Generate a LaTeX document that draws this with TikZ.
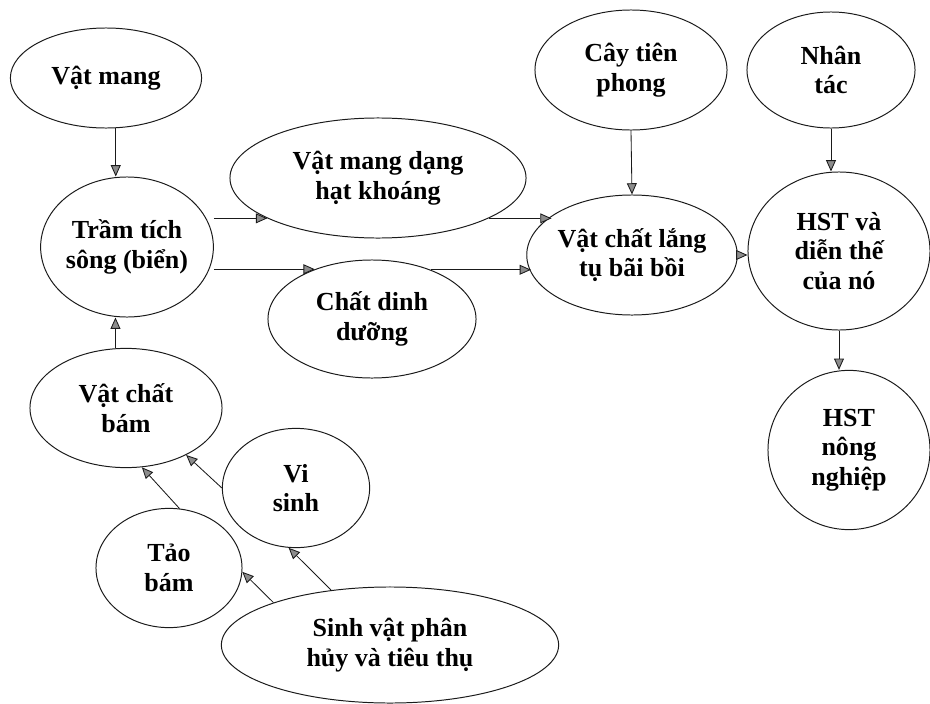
\documentclass[tikz,border=0pt]{standalone}
\usepackage{fontspec}
\setmainfont{Liberation Serif}
\usetikzlibrary{arrows.meta,shapes.geometric,calc}
\definecolor{ink}{HTML}{1A1A1A}
\definecolor{tipfill}{HTML}{8C8C8C}

\begin{document}
\begin{tikzpicture}[
  x=0.025cm, y=-0.025cm,
  >={Triangle[length=8pt,width=7pt,fill=tipfill]},
  bub/.style 2 args={ellipse, draw=ink, line width=0.7pt, inner sep=0pt, minimum width=#1, minimum height=#2, align=center, font=\fontsize{18.5}{21}\selectfont\bfseries},
  arr/.style={->, line width=0.6pt, color=ink},
]
\useasboundingbox (0,0) rectangle (930,704);

\node[bub={4.78cm}{2.5cm}] (vatmang) at (106,78) {Vật mang};
\node[bub={4.25cm}{3.5cm}] (tramtich) at (127,247) {Trầm tích\\sông (biển)};
\node[bub={7.4cm}{3.0cm}] (hatkhoang) at (378,178) {Vật mang dạng\\hạt khoáng};
\node[bub={5.2cm}{2.95cm}] (dinhduong) at (372,319) {Chất dinh\\dưỡng};
\node[bub={4.8cm}{3.0cm}] (tienphong) at (631,70) {Cây tiên\\phong};
\node[bub={4.2cm}{2.9cm}] (nhantac) at (831,70) {Nhân\\tác};
\node[bub={4.75cm}{3.0cm}] (baiboi) at (632,255) {Vật chất lắng\\tụ bãi bồi};
\node[bub={4.55cm}{3.95cm}] (hst) at (839,251) {HST và\\diễn thế\\của nó};
\node[bub={4.05cm}{3.98cm}] (nongnghiep) at (849,450) {HST\\nông\\nghiệp};
\node[bub={4.8cm}{2.98cm}] (vcbam) at (126,408) {Vật chất\\bám};
\node[bub={3.68cm}{2.98cm}] (visinh) at (296,488) {Vi\\sinh};
\node[bub={3.65cm}{2.98cm}] (taobam) at (169,568) {Tảo\\bám};
\node[bub={8.43cm}{2.9cm}] (phanhuy) at (390,645) {Sinh vật phân\\hủy và tiêu thụ};

% dong chinh
\draw[arr] (vatmang.-79) -- (vatmang.-79 |- tramtich.north);
\draw[arr] (tramtich.east |- hatkhoang.200) -- (hatkhoang.200);
\draw[arr] (tramtich.east |- dinhduong.139) -- (dinhduong.139);
\draw[arr] (hatkhoang.-20) -- (hatkhoang.-20 -| baiboi.154);
\draw[arr] (dinhduong.40) -- (dinhduong.40 -| baiboi.190);
\draw[arr] (tienphong.south) -- (baiboi.north);
\draw[arr] (nhantac.south) -- (nhantac.south |- hst.north);
\draw[arr] (baiboi.east) -- (baiboi.east -| hst.west);
\draw[arr] (hst.south) -- (hst.south |- nongnghiep.north);

% nhanh duoi
\draw[arr] (vcbam.100) -- (vcbam.100 |- tramtich.south);
\draw[arr] (taobam.80) -- (vcbam.-75);
\draw[arr] (visinh.west) -- (vcbam.-38);
\draw[arr] (phanhuy.160) -- (taobam.-3);
\draw[arr] (phanhuy.137) -- (visinh.-97);

\end{tikzpicture}
\end{document}
